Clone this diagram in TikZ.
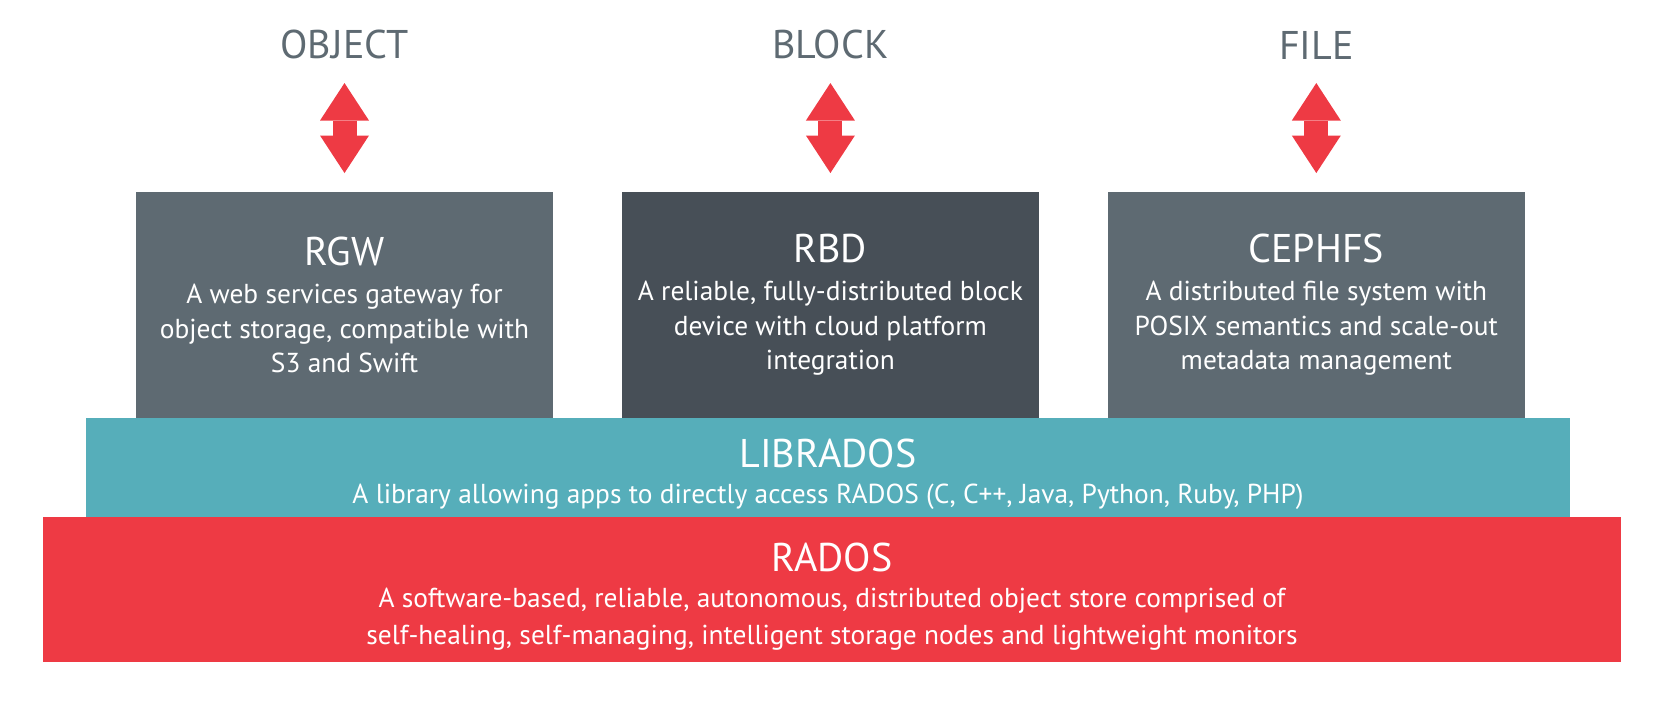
\documentclass[tikz,border=0pt]{standalone}
\usepackage{fontspec}
\setmainfont{PT Sans}
\usetikzlibrary{positioning,arrows.meta}

\definecolor{cephslate}{HTML}{5E6A72}
\definecolor{cephdark}{HTML}{474F57}
\definecolor{cephteal}{HTML}{56AEBA}
\definecolor{cephred}{HTML}{EE3A44}

\newcommand{\layertitle}{\fontsize{22.8}{24}\selectfont}
\newcommand{\highstrut}[1]{\rule{0pt}{#1}}

\begin{document}
\begin{tikzpicture}[x=0.02cm, y=-0.02cm,
    every node/.style={inner sep=0pt, outer sep=0pt},
    layer/.style={text=white, align=center, font=\fontsize{15.6}{19.6}\selectfont},
    svcbox/.style={layer, minimum width=8.34cm, minimum height=4.52cm},
    access/.style={text=cephslate, font=\layertitle},
    updown/.style={cephred, line width=0.48cm,
        {Triangle[length=0.75cm,width=0.98cm,line width=0pt]}-{Triangle[length=0.75cm,width=0.98cm,line width=0pt]},
        shorten <=0.48cm, shorten >=0.38cm}]
        \useasboundingbox (0,0) rectangle (1679,703);

        % --- Draw gateway boxes ---
        \node[svcbox, fill=cephslate] (rgw) at (344.5,305) {{\layertitle RGW}\\[2pt]A web services gateway for\\object storage, compatible with\\S3 and Swift};
        \node[svcbox, fill=cephdark, right=1.38cm of rgw] (rbd) {{\layertitle RBD}\\[2pt]A reliable, fully-distributed block\\device with cloud platform\\integration};
        \node[svcbox, fill=cephslate, right=1.38cm of rbd] (cephfs) {{\layertitle CEPHFS}\\[2pt]A distributed file system with\\POSIX semantics and scale-out\\metadata management};
        % ---

        % --- Draw librados and rados layers ---
        \node[layer, fill=cephteal, minimum width=29.68cm, minimum height=1.98cm] (librados) at (828,467.5) {\highstrut{24pt}{\layertitle LIBRADOS}\\[1pt]A library allowing apps to directly access RADOS (C, C++, Java, Python, Ruby, PHP)};
        \node[layer, fill=cephred, minimum width=31.56cm, minimum height=2.9cm] (rados) at (832,589.5) {\highstrut{24.6pt}{\layertitle RADOS}\\[1pt]A software-based, reliable, autonomous, distributed object store comprised of\\[1.5pt]self-healing, self-managing, intelligent storage nodes and lightweight monitors};
        % ---

        % --- Draw access labels and arrows ---
        \node[access, above=2.66cm of rgw] (object) {OBJECT};
        \node[access, above=2.66cm of rbd] (block) {BLOCK};
        \node[access, above=2.66cm of cephfs] (file) {FILE};
        \draw[updown] (object) -- (rgw);
        \draw[updown] (block) -- (rbd);
        \draw[updown] (file) -- (cephfs);
        % ---
\end{tikzpicture}
\end{document}
